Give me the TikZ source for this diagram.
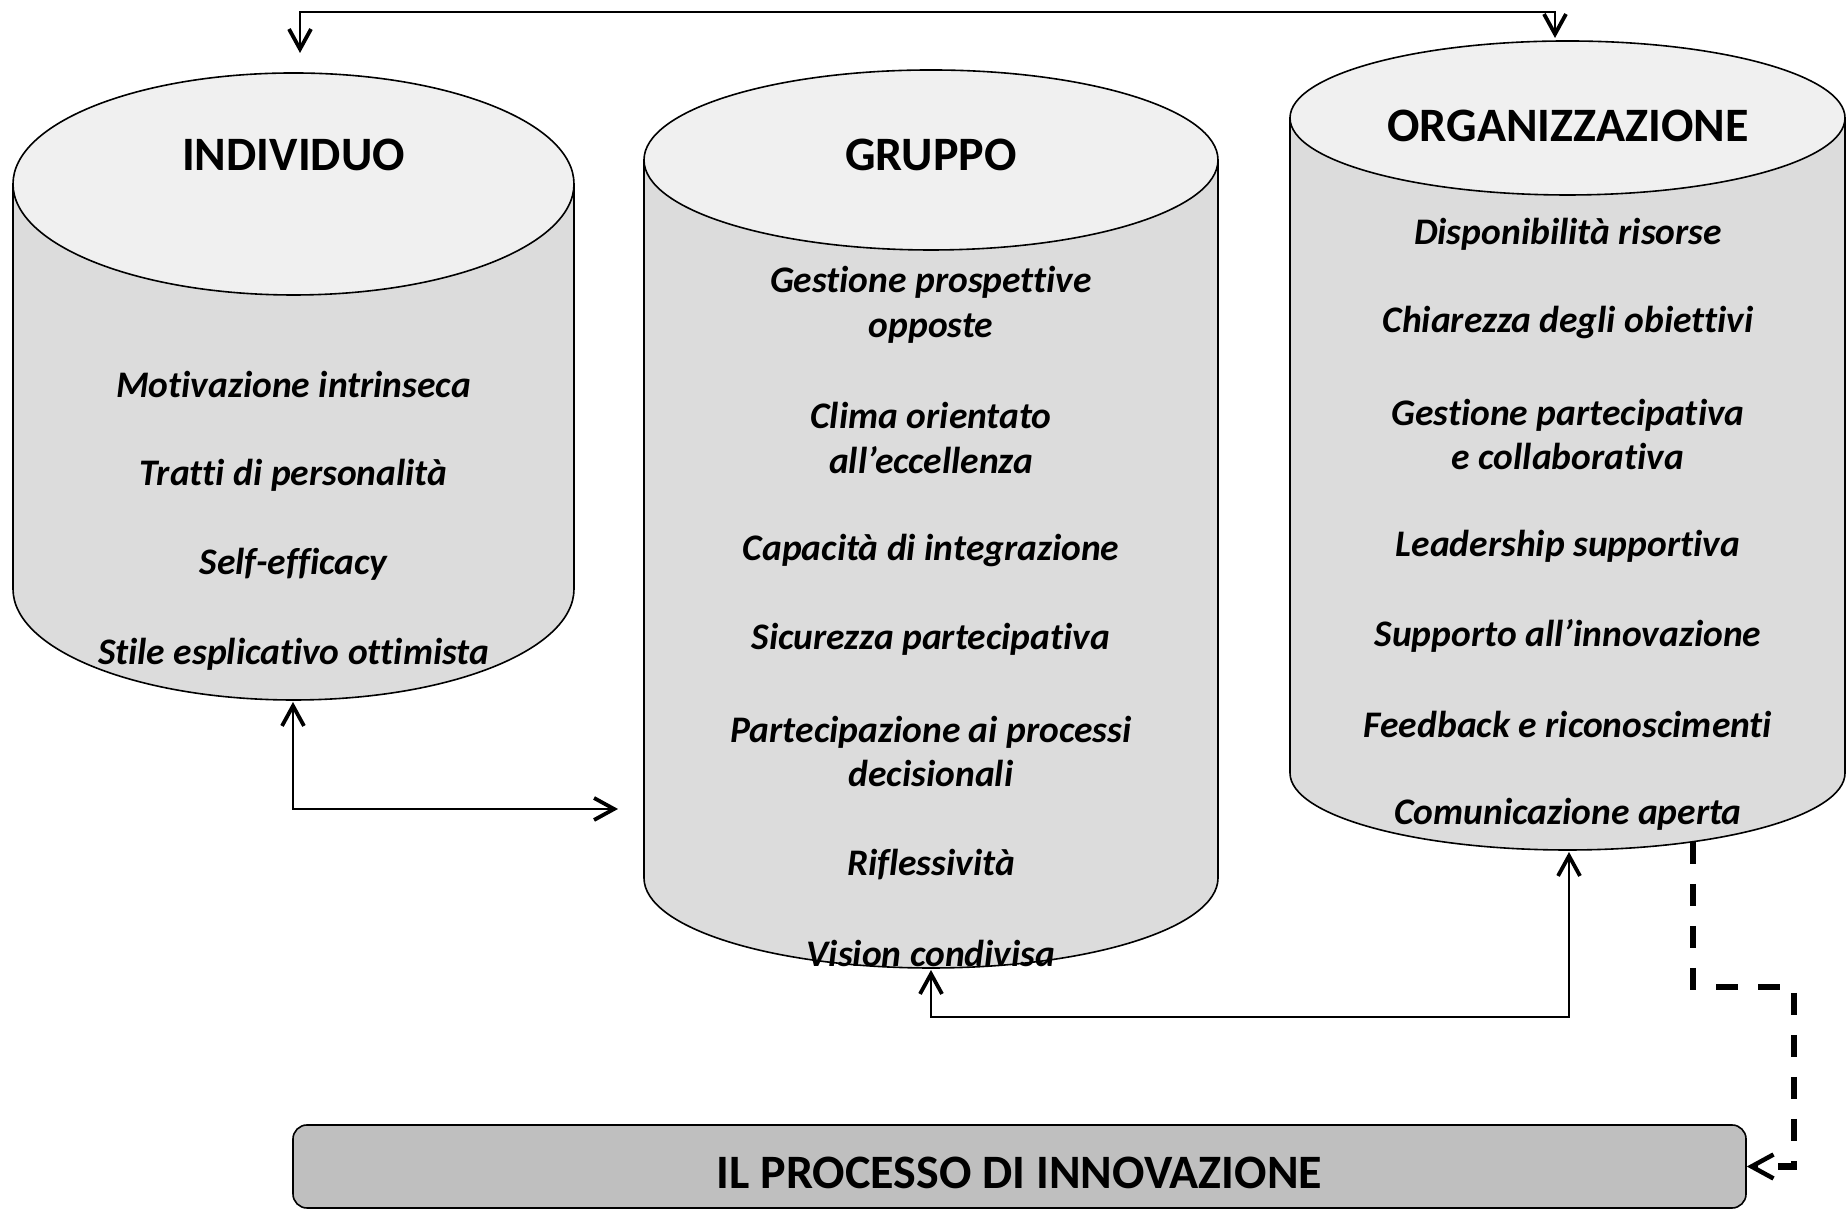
\documentclass[tikz,border=0pt]{standalone}
\usepackage{fontspec}
\setmainfont{Carlito}[Ligatures=NoCommon]
\usetikzlibrary{arrows.meta}
\definecolor{sidegray}{HTML}{DCDCDC}
\definecolor{topgray}{HTML}{F0F0F0}
\definecolor{boxgray}{HTML}{BFBFBF}
\newcommand\drawcyl[5]{%
  \filldraw[fill=sidegray, line width=1.6pt] (#1-#2,#3) -- (#1-#2,#4)
    arc[start angle=180,end angle=360,x radius=#2,y radius=#5] -- (#1+#2,#3) -- cycle;
  \filldraw[fill=topgray, line width=1.6pt] (#1,#3) ellipse[x radius=#2, y radius=#5];
}
\begin{document}
\begin{tikzpicture}[x=1pt,y=1pt,
  title/.style={font=\fontsize{48}{56}\selectfont\bfseries, inner sep=0pt},
  item/.style={font=\fontsize{37.5}{44.8}\selectfont\bfseries\itshape, align=center, inner sep=0pt},
  dbl/.style={line width=1.9pt, {Straight Barb[length=20pt,width=22pt,line width=3.8pt]}-{Straight Barb[length=20pt,width=22pt,line width=3.8pt]}},
  dashconn/.style={line width=6.2pt, dash pattern=on 22pt off 20pt, -{Straight Barb[length=22pt,width=24pt,line width=4.5pt]}},
  procbox/.style={draw, line width=1.6pt, fill=boxgray, rounded corners=14pt, minimum width=1453pt, minimum height=83pt},
  boxtext/.style={font=\fontsize{48}{56}\selectfont\bfseries, inner sep=0pt}
]
\useasboundingbox (0,0) rectangle (1847,1209);

% cylinders
\drawcyl{293.5}{280.5}{1025}{620}{111}
\drawcyl{931}{287}{1049}{331}{90}
\drawcyl{1567.5}{277.5}{1091}{436}{77}

% titles
\node[title] (tI) at (293.5,1054) {INDIVIDUO};
\node[title] (tG) at (931,1054) {GRUPPO};
\node[title] (tO) at (1568,1083) {ORGANIZZAZIONE};

% individuo items
\node[item] (i1) at (293.5,825) {Motivazione intrinseca};
\node[item] (i2) at (293.5,734) {Tratti di personalità};
\node[item] (i3) at (293.5,645) {Self-efficacy};
\node[item] (i4) at (293.5,555) {Stile esplicativo ottimista};

% gruppo items
\node[item] (g1) at (931,904) {Gestione prospettive\\opposte};
\node[item] (g2) at (931,771) {Clima orientato\\all’eccellenza};
\node[item] (g3) at (931,658) {Capacità di integrazione};
\node[item] (g4) at (931,569.5) {Sicurezza partecipativa};
\node[item] (g5) at (931,457.5) {Partecipazione ai processi\\decisionali};
\node[item] (g6) at (931,344.5) {Riflessività};
\node[item] (g7) at (931,256) {Vision condivisa};

% organizzazione items
\node[item] (o1) at (1568,975) {Disponibilità risorse};
\node[item] (o2) at (1568,886) {Chiarezza degli obiettivi};
\node[item] (o3) at (1568,774.5) {Gestione partecipativa\\e collaborativa};
\node[item] (o4) at (1568,663) {Leadership supportiva};
\node[item] (o5) at (1568,573) {Supporto all’innovazione};
\node[item] (o6) at (1568,485) {Feedback e riconoscimenti};
\node[item] (o7) at (1568,395) {Comunicazione aperta};

% process box
\node[procbox] (box) at (1019.5,42.5) {};
\node[boxtext] (boxlabel) at (1019.5,36) {IL PROCESSO DI INNOVAZIONE};

% connector anchor points
\coordinate (iT) at (300,1156);
\coordinate (oT) at (1555,1171);
\coordinate (topline) at (0,1197);
\coordinate (iB) at (293,507);
\coordinate (gL) at (618,400);
\coordinate (gB) at (931,239);
\coordinate (oB) at (1569,357);
\coordinate (c3) at (0,192);
\coordinate (oD) at (1693,367);
\coordinate (dc) at (0,222);
\coordinate (dr) at (1794,0);

% connectors
\draw[dbl] (iT) |- (oT |- topline) -- (oT);
\draw[dbl] (iB) |- (gL);
\draw[dbl] (gB) -- (gB |- c3) -| (oB);
\draw[dashconn] (oD) -- (oD |- dc) -- (dr |- dc) -- (dr |- box.east) -- (box.east);
\end{tikzpicture}
\end{document}
